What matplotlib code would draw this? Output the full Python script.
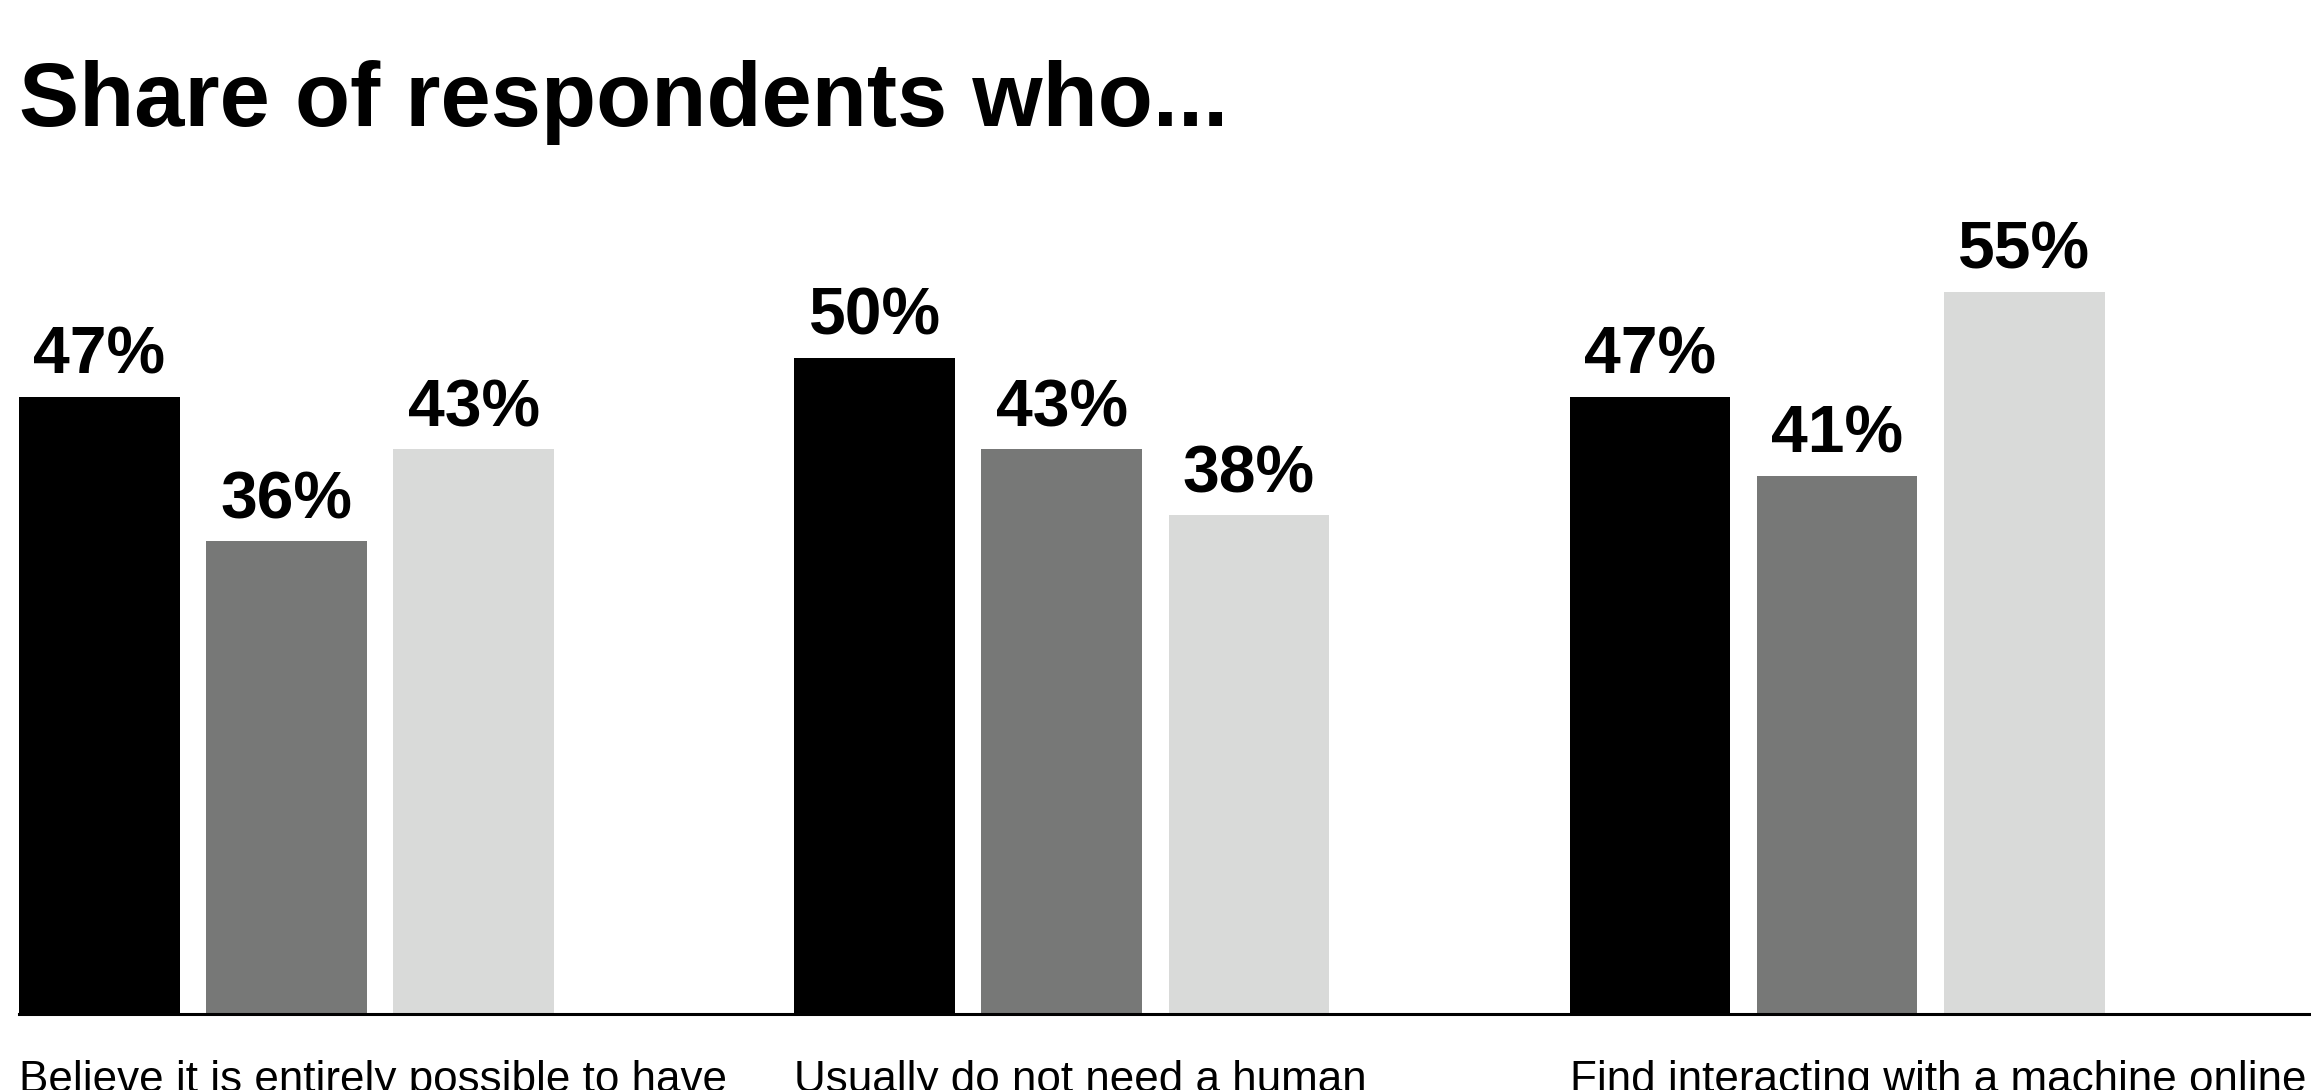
import matplotlib.pyplot as plt

# data
categories = [
    "Believe it is entirely possible to have",
    "Usually do not need a human",
    "Find interacting with a machine online",
]
series_a = [47, 50, 47]
series_b = [36, 43, 41]
series_c = [43, 38, 55]
colors = ["#000000", "#777877", "#d9dad9"]

W, H = 2311, 1090
fig = plt.figure(figsize=(W / 100, H / 100), dpi=100)

# axes: bars start at x=19px, baseline at y=1014px
ax_bottom = (H - 1014) / H
ax_top = 150 / H
ax = fig.add_axes([19 / W, ax_bottom, 1 - 19 / W, 1 - ax_bottom - ax_top])

px_per_pct = 13.13
ax.set_ylim(0, (1014 - 150) / px_per_pct)

group_step = 4.142
bar_w = 0.858
ax.set_xlim(0, (W - 19) / (127 * W / 1568))

for g in range(len(categories)):
    vals = [series_a[g], series_b[g], series_c[g]]
    for k, v in enumerate(vals):
        x0 = g * group_step + k
        ax.bar(x0, v, width=bar_w, align="edge", color=colors[k], zorder=2)
        ax.annotate(f"{v}%", (x0 + bar_w / 2, v), xytext=(0, 16.5),
                    textcoords="offset points", ha="center", va="baseline",
                    fontsize=47.5, fontweight="bold", family="Liberation Sans")
    ax.text(g * group_step, -2 / H, categories[g],
            transform=ax.get_xaxis_transform() if False else
            plt.matplotlib.transforms.blended_transform_factory(ax.transData, fig.transFigure),
            ha="left", va="baseline", fontsize=31.7, family="Liberation Sans",
            clip_on=False)

for s in ["top", "right", "left"]:
    ax.spines[s].set_visible(False)
ax.spines["bottom"].set_linewidth(2.2)
ax.spines["bottom"].set_zorder(3)
ax.set_xticks([])
ax.set_yticks([])
ax.patch.set_visible(False)

fig.text(19 / W, 1 - 126 / H, "Share of respondents who...", ha="left",
         va="baseline", fontsize=65, fontweight="bold", family="Liberation Sans")

fig.savefig("out.png", dpi=100)
